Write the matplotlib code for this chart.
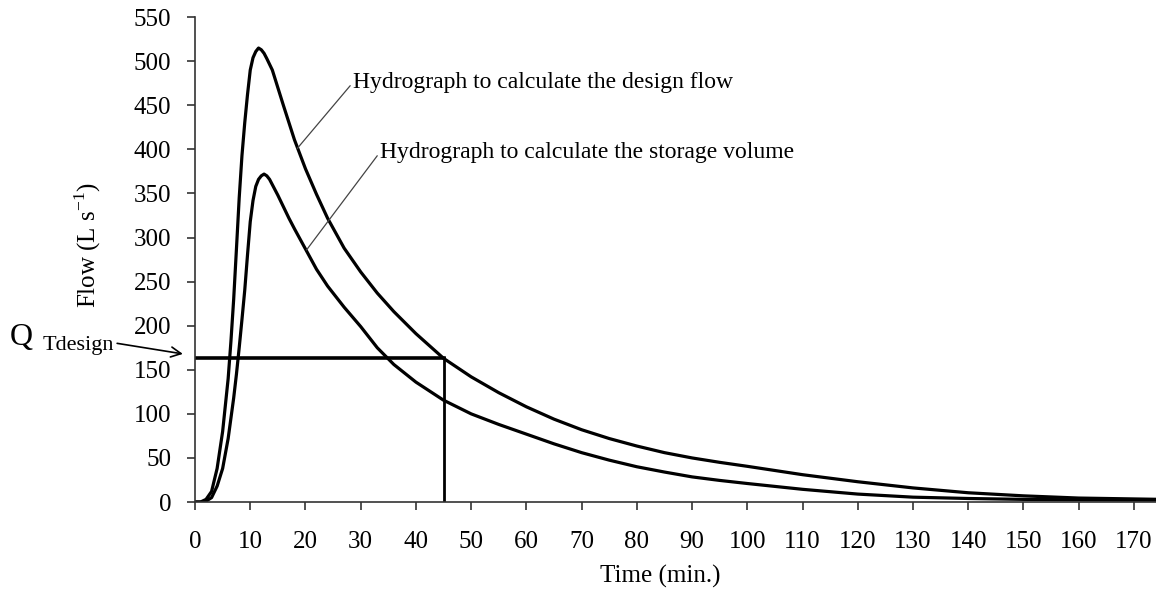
import matplotlib
matplotlib.use('Agg')
import matplotlib.pyplot as plt

plt.rcParams['font.family'] = ['Liberation Serif', 'DejaVu Serif']

# hydrograph used to calculate the design flow (upper curve)
t_design = [0, 1, 2, 3, 4, 5, 6, 6.5, 7, 7.5, 8, 8.5, 9, 9.5, 10, 10.5, 11, 11.5, 12, 12.5,
            13, 14, 15, 16, 18, 20, 22, 24, 27, 30, 33, 36, 40, 45, 50, 55, 60, 65, 70,
            75, 80, 85, 90, 95, 100, 110, 120, 130, 140, 150, 160, 175]
q_design = [0, 0, 3, 12, 38, 80, 140, 182, 230, 287, 345, 393, 430, 462, 490, 504, 511, 515, 513, 509,
            503, 490, 470, 450, 411, 378, 349, 322, 288, 261, 237, 216, 191, 163, 142, 124, 108, 94, 82,
            72, 63.5, 56, 50, 45, 40.5, 31, 23, 16, 10.5, 7, 4.5, 3]

# hydrograph used to calculate the storage volume (lower curve)
t_storage = [0, 1, 2, 3, 4, 5, 6, 7, 7.5, 8, 8.5, 9, 9.5, 10, 10.5, 11, 11.5, 12, 12.5, 13,
             13.5, 14, 15, 16, 17, 18, 20, 22, 24, 27, 30, 33, 36, 40, 45, 50, 55, 60, 65,
             70, 75, 80, 85, 90, 95, 100, 110, 120, 130, 140, 150, 160, 175]
q_storage = [0, 0, 1, 5, 18, 38, 72, 118, 145, 175, 207, 240, 280, 318, 342, 358, 366, 370, 372, 370,
             366, 360, 348, 335, 322, 310, 287, 264, 245, 221, 199, 175, 156, 136, 115.5, 100, 88, 77, 66,
             56, 47.5, 40, 34, 28.5, 24.5, 21, 14.4, 9, 5.5, 4, 3, 2.5, 2]

t_crit = 45      # min
q_tdesign = 163  # L/s

x_ticks = list(range(0, 180, 10))
y_ticks = list(range(0, 600, 50))

fig = plt.figure(figsize=(11.56, 5.92), dpi=100)
ax = fig.add_axes([0.1687, 0.152, 0.8313, 0.819])

ax.plot(t_design, q_design, color='black', lw=2.3, solid_joinstyle='round')
ax.plot(t_storage, q_storage, color='black', lw=2.3, solid_joinstyle='round')

# design flow lines
ax.plot([0, t_crit], [q_tdesign, q_tdesign], color='black', lw=2.6)
ax.plot([t_crit, t_crit], [0, q_tdesign], color='black', lw=2.0)

ax.set_xlim(0, 174)
ax.set_ylim(0, 550)
ax.set_xticks(x_ticks)
ax.set_yticks(y_ticks)
ax.spines['top'].set_visible(False)
ax.spines['right'].set_visible(False)
for s in ['left', 'bottom']:
    ax.spines[s].set_linewidth(1.2)
    ax.spines[s].set_color('#333333')
ax.tick_params(axis='y', direction='out', length=6, width=1.2, color='#333333',
               labelsize=18, pad=11)
ax.tick_params(axis='x', direction='out', length=6, width=1.2, color='#333333',
               labelsize=18, pad=15)

ax.set_ylabel('Flow (L s$^{\\mathregular{-1}}$)', fontsize=18)
ax.yaxis.set_label_coords(-0.096, 0.53)
ax.set_xlabel('Time (min.)', fontsize=18)
ax.xaxis.set_label_coords(0.484, -0.13)

# labels with leader lines
ax.annotate('Hydrograph to calculate the design flow', xy=(18.5, 401), xytext=(28.6, 476),
            fontsize=17, ha='left', va='center',
            arrowprops=dict(arrowstyle='-', color='#444444', lw=0.9,
                            shrinkA=0, shrinkB=0, relpos=(0, 0.5)))
ax.annotate('Hydrograph to calculate the storage volume', xy=(20.2, 286), xytext=(33.5, 397),
            fontsize=17, ha='left', va='center',
            arrowprops=dict(arrowstyle='-', color='#444444', lw=0.9,
                            shrinkA=0, shrinkB=0, relpos=(0, 0.5)))

# Q Tdesign pointer
ax.text(-33.5, 178, 'Q', fontsize=23, ha='left', va='baseline', clip_on=False)
ax.text(-27.6, 172, 'Tdesign', fontsize=16, ha='left', va='baseline', clip_on=False)
ax.annotate('', xy=(-2.2, 168), xytext=(-14.1, 180), annotation_clip=False,
            arrowprops=dict(arrowstyle='->', color='black', lw=1.2,
                            shrinkA=0, shrinkB=0, mutation_scale=18))

fig.savefig('out.png', dpi=100)
